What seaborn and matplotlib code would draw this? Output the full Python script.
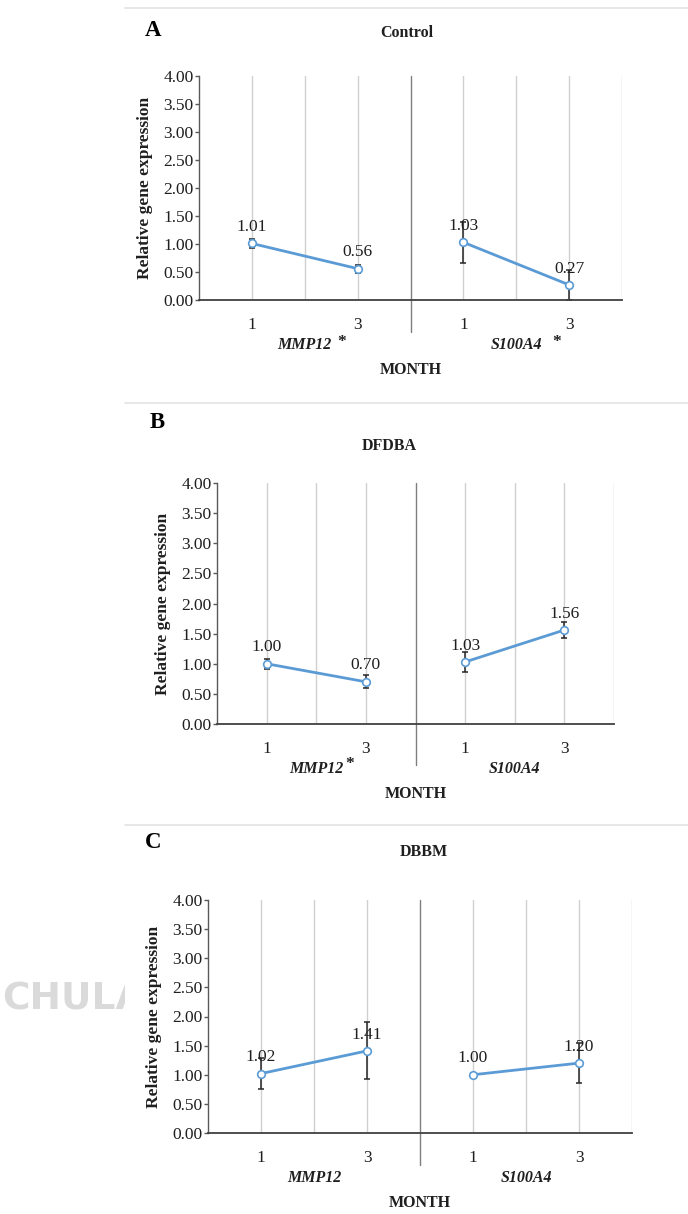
import numpy as np
import pandas as pd
import matplotlib
matplotlib.use("Agg")
import matplotlib.pyplot as plt
import seaborn as sns
from matplotlib.lines import Line2D
from matplotlib.patches import Rectangle

# ---------------- data ----------------
genes = ["MMP12", "S100A4"]
months = ["1", "3"]
panel_letters = ["A", "B", "C"]
panel_titles = ["Control", "DFDBA", "DBBM"]
gene_stars = [["*", "*"], ["*", ""], ["", ""]]

control_mean = [1.01, 0.56, 1.03, 0.27]
control_err = [0.08, 0.07, 0.37, 0.27]
dfdba_mean = [1.00, 0.70, 1.03, 1.56]
dfdba_err = [0.08, 0.11, 0.16, 0.14]
dbbm_mean = [1.02, 1.41, 1.00, 1.20]
dbbm_err = [0.26, 0.49, 0.03, 0.35]

ytick_values = [0.0, 0.5, 1.0, 1.5, 2.0, 2.5, 3.0, 3.5, 4.0]
ylabel = "Relative gene expression"
xlabel = "MONTH"

means = [control_mean, dfdba_mean, dbbm_mean]
errs = [control_err, dfdba_err, dbbm_err]

# ---------------- style ----------------
sns.set_theme(style="white")
plt.rcParams["font.family"] = ["Liberation Serif", "DejaVu Serif"]

W, H = 688, 1214
fig = plt.figure(figsize=(W / 100, H / 100), dpi=100)
fig.patch.set_facecolor("white")

# axes boxes in pixels: left, top, right, bottom
boxes = [(199, 76, 622, 300), (217, 483, 614, 724), (208, 900, 632, 1133)]
letter_pos = [(153, 30), (157, 422), (153, 843)]
title_pos = [(407, 33), (389, 446), (424, 852)]
sep_lines = [8, 403, 825]
sep_bottom = [-0.143, -0.17, -0.137]
star_x = [[0.85, 2.88], [0.84, 2.88], [0.86, 2.88]]
star_dy = [42, 40, 42]

LINE_C = "#5B9BD5"
GRID_C = "#d0d0d0"
AXIS_C = "#595959"
TXT_C = "#1f1f1f"


def fx(x):
    return x / W


def fy(y):
    return 1 - y / H


# faint watermark behind the panels
fig.text(fx(2), fy(1000), "CHULA", fontsize=27, fontweight="bold",
         family=["DejaVu Sans"], color="#dadada", va="center", ha="left", zorder=-3)
fig.add_artist(Rectangle((fx(125), 0), 1 - fx(125), fy(826), transform=fig.transFigure,
                         facecolor="white", edgecolor="none", zorder=-2))

for i in range(3):
    l, t, r, b = boxes[i]
    ax = fig.add_axes([fx(l), fy(b), fx(r) - fx(l), (b - t) / H])
    ax.set_facecolor("white")

    df = pd.DataFrame({
        "gene": np.repeat(genes, len(months)),
        "month": months * len(genes),
        "value": means[i],
        "err": errs[i],
    })
    df["pos"] = [g * 2 + m for g in range(len(genes)) for m in range(len(months))]

    # gridlines
    for gx in [0, 0.5, 1, 2, 2.5, 3, 3.5]:
        ax.axvline(gx, color=GRID_C, lw=1.0, zorder=0)
    ax.plot([1.5, 1.5], [sep_bottom[i], 1], transform=ax.get_xaxis_transform(),
            color="#7f7f7f", lw=1.0, clip_on=False, zorder=1)

    # error bars
    ax.errorbar(df["pos"], df["value"], yerr=df["err"], fmt="none",
                ecolor="#262626", elinewidth=1.1, capsize=2.5, capthick=1.1, zorder=2)

    # lines + markers with seaborn
    sns.lineplot(data=df, x="pos", y="value", units="gene", estimator=None,
                 color=LINE_C, lw=2.0, marker="o", markersize=5.5,
                 markerfacecolor="white", markeredgecolor=LINE_C, markeredgewidth=1.2,
                 ax=ax, zorder=3, legend=False)

    # data labels
    for p, v in zip(df["pos"], df["value"]):
        ax.annotate(f"{v:.2f}", xy=(p, v), xytext=(0, 6), textcoords="offset points",
                    ha="center", va="bottom", fontsize=12.5, color=TXT_C, zorder=4)

    ax.set_xlim(-0.5, 3.5)
    ax.set_ylim(0, 4)
    ax.set_yticks(ytick_values)
    ax.set_yticklabels([f"{v:.2f}" for v in ytick_values], fontsize=12.5, color=TXT_C)
    ax.set_xticks(df["pos"])
    ax.set_xticklabels(months * len(genes), fontsize=12.5, color=TXT_C)
    ax.tick_params(axis="y", length=3, width=1.0, color=AXIS_C, pad=1, left=True)
    ax.tick_params(axis="x", length=0, pad=12)
    ax.set_xlabel("")
    ax.set_ylabel(ylabel, fontsize=12.5, fontweight="bold", color=TXT_C, labelpad=7)

    for s in ["top", "right"]:
        ax.spines[s].set_visible(False)
    ax.spines["left"].set_color(AXIS_C)
    ax.spines["left"].set_linewidth(1.0)
    ax.spines["bottom"].set_color("#404040")
    ax.spines["bottom"].set_linewidth(1.3)

    # gene labels and stars
    for g, gene in enumerate(genes):
        ax.annotate(gene, xy=(g * 2 + 0.5, 0), xycoords=("data", "axes fraction"),
                    xytext=(0, -45 * 0.72), textcoords="offset points",
                    ha="center", va="center", fontsize=11.5, fontweight="bold",
                    fontstyle="italic", color=TXT_C, annotation_clip=False)
        if gene_stars[i][g]:
            ax.annotate(gene_stars[i][g], xy=(star_x[i][g], 0), xycoords=("data", "axes fraction"),
                        xytext=(0, -star_dy[i] * 0.72), textcoords="offset points",
                        ha="center", va="center", fontsize=12.5, fontweight="bold",
                        color=TXT_C, annotation_clip=False)
    ax.annotate(xlabel, xy=(1.5, 0), xycoords=("data", "axes fraction"),
                xytext=(0, -70 * 0.72), textcoords="offset points",
                ha="center", va="center", fontsize=11.5, fontweight="bold",
                color=TXT_C, annotation_clip=False)

    # panel letter, title, separator line
    fig.text(fx(letter_pos[i][0]), fy(letter_pos[i][1]), panel_letters[i], fontsize=16.5,
             fontweight="bold", ha="center", va="center", color="black")
    fig.text(fx(title_pos[i][0]), fy(title_pos[i][1]), panel_titles[i], fontsize=11.5,
             fontweight="bold", ha="center", va="center", color=TXT_C)
    fig.add_artist(Line2D([fx(125), 1], [fy(sep_lines[i]), fy(sep_lines[i])],
                          transform=fig.transFigure, color="#e3e3e3", lw=1.2))

fig.savefig("out.png", dpi=100, facecolor="white")
